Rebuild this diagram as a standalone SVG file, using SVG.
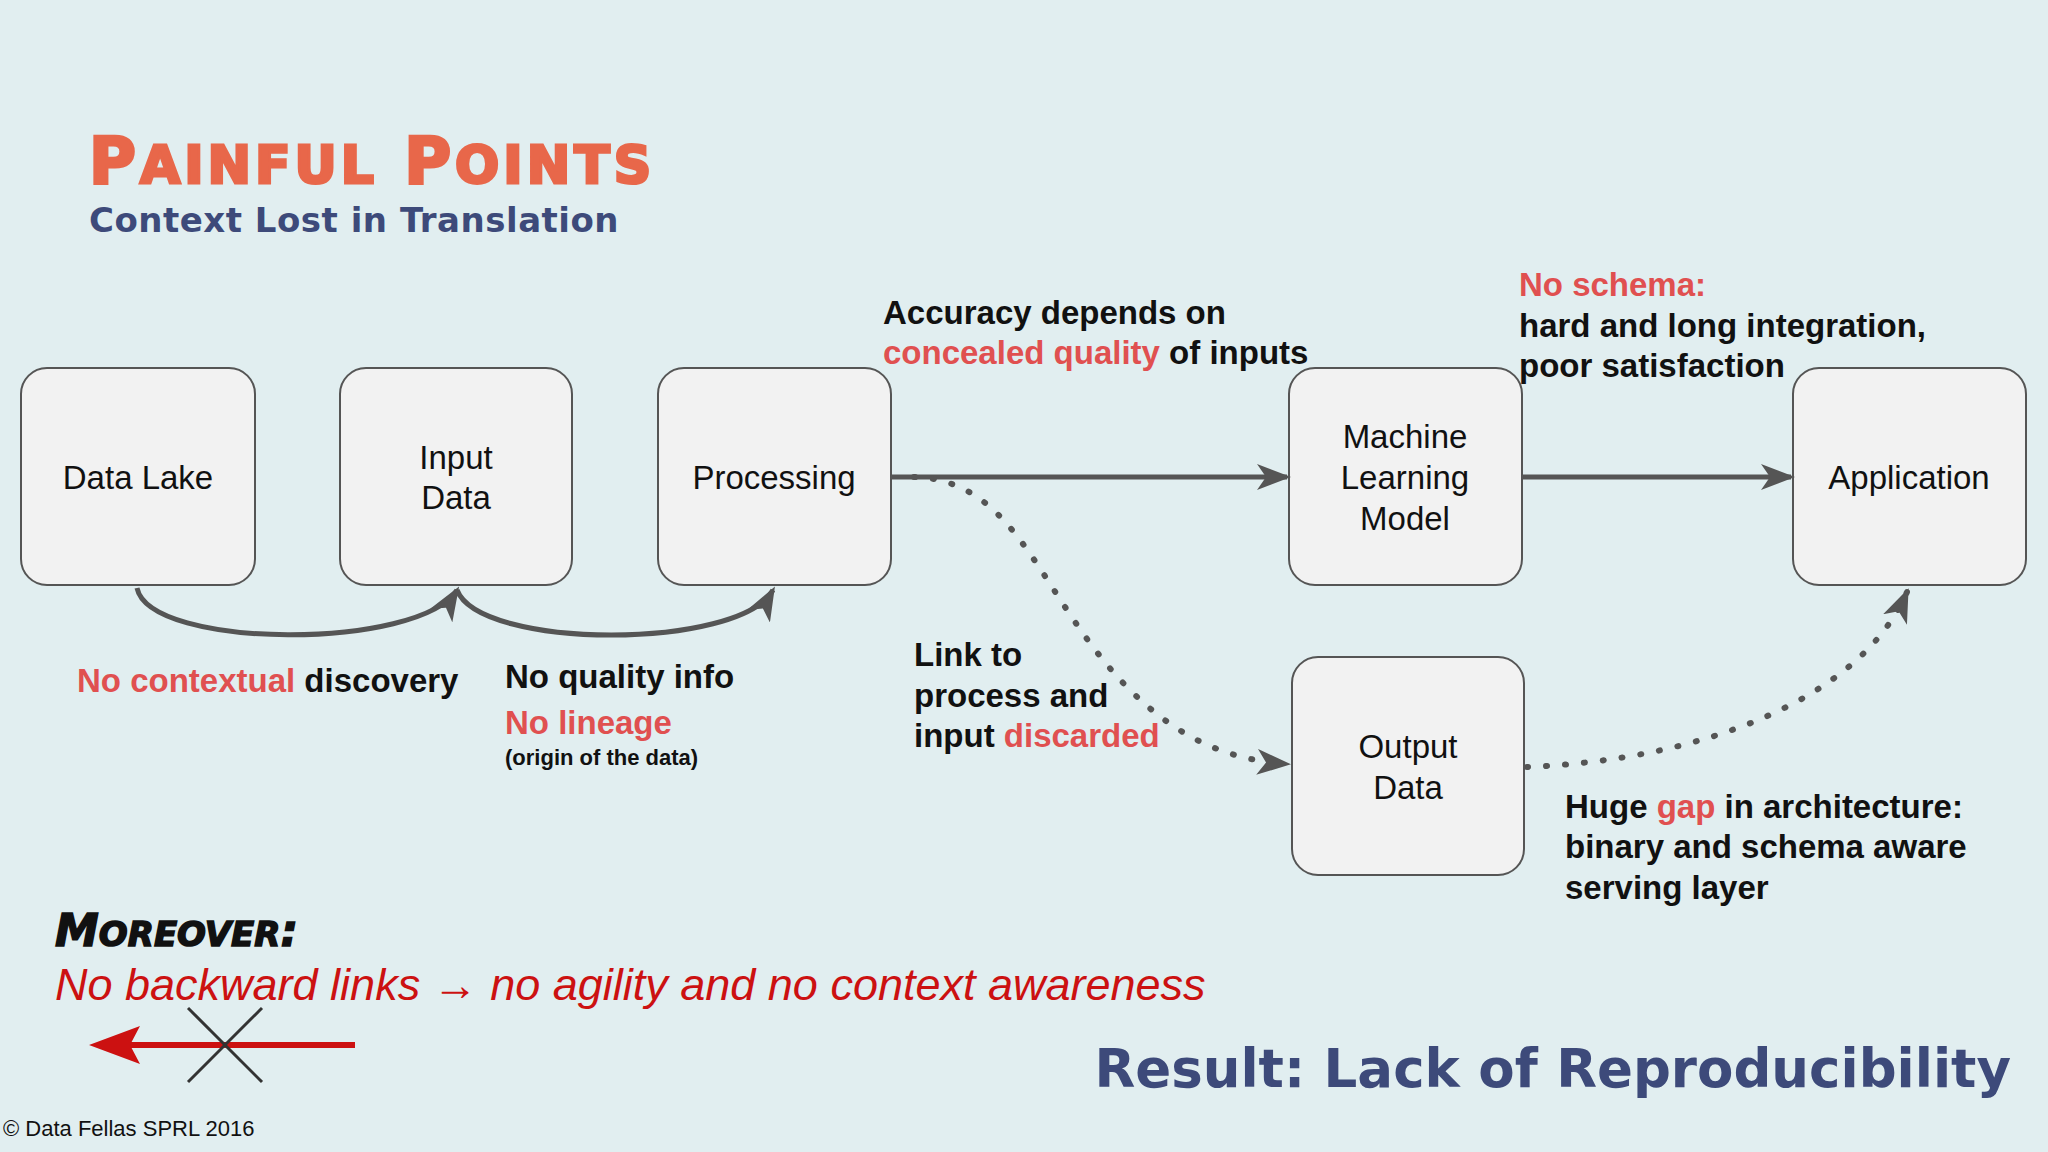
<svg xmlns="http://www.w3.org/2000/svg" width="2048" height="1152" viewBox="0 0 2048 1152">
<defs>
<style>
.box{fill:#f2f2f2;stroke:#555;stroke-width:2}
.bt{font-family:"Liberation Sans",Arial,sans-serif;font-size:33px;fill:#111;text-anchor:middle}
.lb{font-family:"Liberation Sans",Arial,sans-serif;font-size:33px;font-weight:bold;fill:#111}
.r{fill:#e05050}
.ln{fill:none;stroke:#555;stroke-width:5}
.dt{fill:none;stroke:#555;stroke-width:6;stroke-dasharray:1 18;stroke-linecap:round}
</style>
<marker id="ah" viewBox="0 0 34 26" refX="30" refY="13" markerWidth="34" markerHeight="26" markerUnits="userSpaceOnUse" orient="auto">
<path d="M0,0 L34,13 L0,26 L9,13 Z" fill="#555"/>
</marker>
</defs>
<rect width="2048" height="1152" fill="#e1eef0"/>
<text x="89" y="183" font-family="DejaVu Sans,sans-serif" font-weight="900" font-size="64" fill="#e8674a" stroke="#e8674a" stroke-width="3" letter-spacing="4">P<tspan font-size="52">AINFUL</tspan> P<tspan font-size="52">OINTS</tspan></text>
<text x="89" y="232" font-family="DejaVu Sans,sans-serif" font-weight="bold" font-size="34" fill="#3d4a7a" letter-spacing="0.5">Context Lost in Translation</text>
<g id="datalake"><rect class="box" x="21" y="368" width="234" height="217" rx="26"/><text class="bt" x="138" y="489">Data Lake</text></g>
<g id="inputdata"><rect class="box" x="340" y="368" width="232" height="217" rx="26"/><text class="bt" x="456" y="469">Input</text><text class="bt" x="456" y="509">Data</text></g>
<g id="processing"><rect class="box" x="658" y="368" width="233" height="217" rx="26"/><text class="bt" x="774" y="489">Processing</text></g>
<g id="ml"><rect class="box" x="1289" y="368" width="233" height="217" rx="26"/><text class="bt" x="1405" y="448">Machine</text><text class="bt" x="1405" y="489">Learning</text><text class="bt" x="1405" y="530">Model</text></g>
<g id="application"><rect class="box" x="1793" y="368" width="233" height="217" rx="26"/><text class="bt" x="1909" y="489">Application</text></g>
<g id="outputdata"><rect class="box" x="1292" y="657" width="232" height="218" rx="26"/><text class="bt" x="1408" y="758">Output</text><text class="bt" x="1408" y="799">Data</text></g>
<g id="connectors">
<path class="ln" d="M891,477 L1287,477" marker-end="url(#ah)"/>
<path class="ln" d="M1522,477 L1791,477" marker-end="url(#ah)"/>
<path class="ln" d="M137,588 C150,650 420,650 457,590" marker-end="url(#ah)"/>
<path class="ln" d="M457,590 C480,650 740,650 773,590" marker-end="url(#ah)"/>
<path class="dt" d="M914,477 C1020,480 1040,600 1130,690 C1180,740 1230,760 1287,764" marker-end="url(#ah)"/>
<path class="dt" d="M1527,767 C1700,760 1860,700 1907,592" marker-end="url(#ah)"/>
</g>
<g class="lb">
<text x="883" y="324">Accuracy depends on</text>
<text x="883" y="364"><tspan class="r">concealed quality</tspan> of inputs</text>
<text x="1519" y="296" class="r">No schema:</text>
<text x="1519" y="337">hard and long integration,</text>
<text x="1519" y="377">poor satisfaction</text>
<text x="77" y="692"><tspan class="r">No contextual</tspan> discovery</text>
<text x="505" y="688">No quality info</text>
<text x="505" y="734" class="r">No lineage</text>
<text x="505" y="765" font-size="22">(origin of the data)</text>
<text x="914" y="666">Link to</text>
<text x="914" y="707">process and</text>
<text x="914" y="747">input <tspan class="r">discarded</tspan></text>
<text x="1565" y="818">Huge <tspan class="r">gap</tspan> in architecture:</text>
<text x="1565" y="858">binary and schema aware</text>
<text x="1565" y="899">serving layer</text>
</g>
<text x="55" y="946" font-family="DejaVu Sans,sans-serif" font-weight="bold" font-style="italic" font-size="44" fill="#111" stroke="#111" stroke-width="1.5">M<tspan font-size="34">OREOVER</tspan>:</text>
<text x="55" y="1000" font-family="Liberation Sans,Arial,sans-serif" font-style="italic" font-size="45" fill="#cc1111">No backward links → no agility and no context awareness</text>
<line x1="120" y1="1045" x2="355" y2="1045" stroke="#cc1111" stroke-width="6"/>
<path d="M89,1045 L140,1026 L130,1045 L140,1064 Z" fill="#cc1111"/>
<line x1="188" y1="1008" x2="262" y2="1082" stroke="#333" stroke-width="3"/>
<line x1="262" y1="1008" x2="188" y2="1082" stroke="#333" stroke-width="3"/>
<text x="2011" y="1087" text-anchor="end" font-family="DejaVu Sans,sans-serif" font-weight="bold" font-size="53" fill="#3d4a7a">Result: Lack of Reproducibility</text>
<text x="3" y="1136" font-family="Liberation Sans,Arial,sans-serif" font-size="22" fill="#111">© Data Fellas SPRL 2016</text>
</svg>
